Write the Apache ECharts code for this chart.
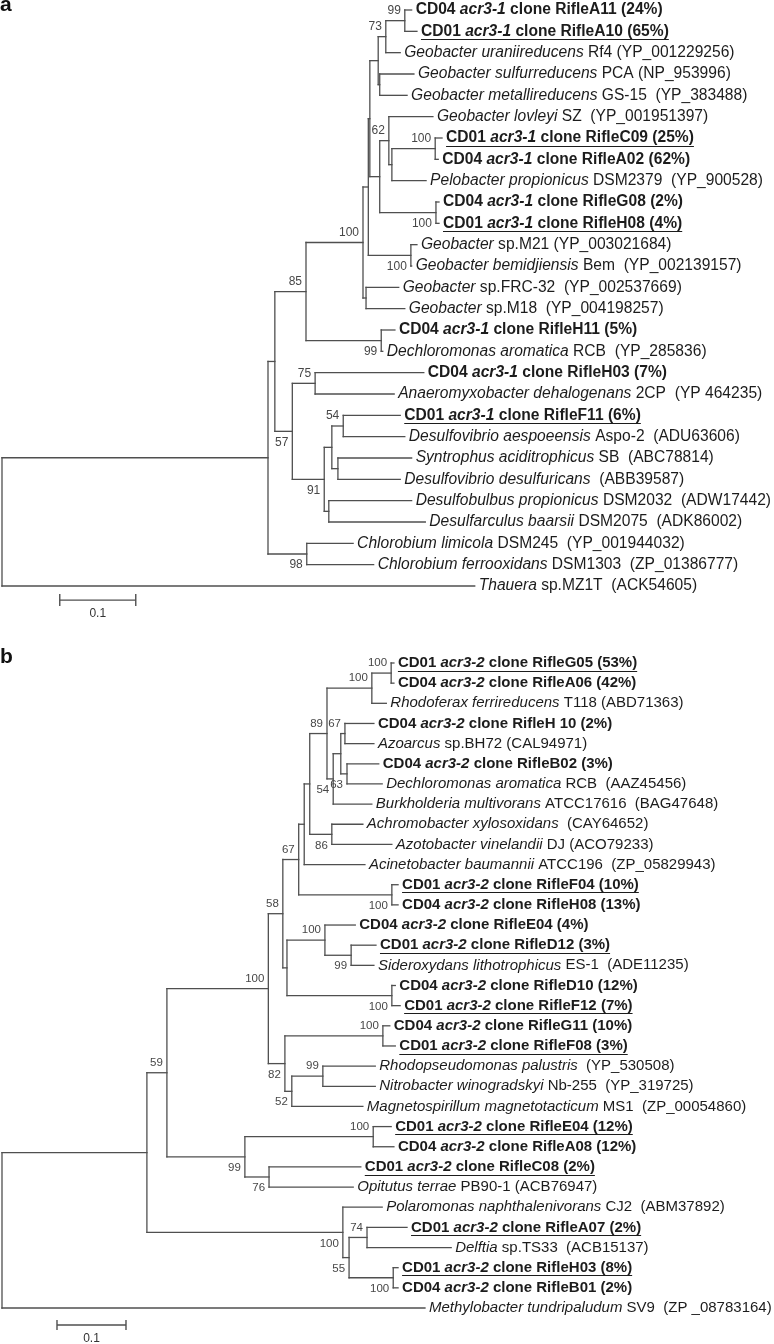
<!DOCTYPE html>
<html>
<head>
<meta charset="utf-8">
<script src="https://cdn.jsdelivr.net/npm/echarts@6/dist/echarts.min.js"></script>
<style>
html, body { margin: 0; padding: 0; background: #fff; }
#chart { width: 774px; height: 1344px; }
</style>
</head>
<body>
<div id="chart"></div>
<script>
// ---- panel a (acr3-1) ----
// leaves top to bottom, *...* marks the italic part
const leafLabelsA = [
  'CD04 *acr3-1* clone RifleA11 (24%)',
  'CD01 *acr3-1* clone RifleA10 (65%)',
  '*Geobacter uraniireducens* Rf4 (YP_001229256)',
  '*Geobacter sulfurreducens* PCA (NP_953996)',
  '*Geobacter metallireducens* GS-15  (YP_383488)',
  '*Geobacter lovleyi* SZ  (YP_001951397)',
  'CD01 *acr3-1* clone RifleC09 (25%)',
  'CD04 *acr3-1* clone RifleA02 (62%)',
  '*Pelobacter propionicus* DSM2379  (YP_900528)',
  'CD04 *acr3-1* clone RifleG08 (2%)',
  'CD01 *acr3-1* clone RifleH08 (4%)',
  '*Geobacter* sp.M21 (YP_003021684)',
  '*Geobacter bemidjiensis* Bem  (YP_002139157)',
  '*Geobacter* sp.FRC-32  (YP_002537669)',
  '*Geobacter* sp.M18  (YP_004198257)',
  'CD04 *acr3-1* clone RifleH11 (5%)',
  '*Dechloromonas aromatica* RCB  (YP_285836)',
  'CD04 *acr3-1* clone RifleH03 (7%)',
  '*Anaeromyxobacter dehalogenans* 2CP  (YP 464235)',
  'CD01 *acr3-1* clone RifleF11 (6%)',
  '*Desulfovibrio aespoeensis* Aspo-2  (ADU63606)',
  '*Syntrophus aciditrophicus* SB  (ABC78814)',
  '*Desulfovibrio desulfuricans*  (ABB39587)',
  '*Desulfobulbus propionicus* DSM2032  (ADW17442)',
  '*Desulfarculus baarsii* DSM2075  (ADK86002)',
  '*Chlorobium limicola* DSM245  (YP_001944032)',
  '*Chlorobium ferrooxidans* DSM1303  (ZP_01386777)',
  '*Thauera* sp.MZ1T  (ACK54605)'
];
// distance from root of each leaf tip
const leafDepthA = [0.539, 0.546, 0.524, 0.542, 0.533, 0.567, 0.579, 0.574, 0.558, 0.575,
  0.575, 0.546, 0.539, 0.522, 0.530, 0.517, 0.501, 0.555, 0.516, 0.524,
  0.530, 0.539, 0.524, 0.539, 0.557, 0.462, 0.489, 0.622];
// internal nodes, children first; numbers are leaves, 'nK' is node K
const nodeKidsA = [
  [0, 1], ['n0', 2], [3, 4], ['n1', 'n2'], [6, 7], ['n4', 8], [5, 'n5'], [9, 10],
  ['n6', 'n7'], ['n3', 'n8'], [11, 12], ['n9', 'n10'], [13, 14], ['n11', 'n12'],
  [15, 16], ['n13', 'n14'], [17, 18], [19, 20], [21, 22], ['n17', 'n18'], [23, 24],
  ['n19', 'n20'], ['n16', 'n21'], ['n15', 'n22'], [25, 26], ['n23', 'n24'], ['n25', 27]
];
const nodeDepthA = [0.530, 0.505, 0.497, 0.495, 0.570, 0.513, 0.509, 0.571, 0.497, 0.484,
  0.538, 0.482, 0.479, 0.475, 0.499, 0.400, 0.412, 0.449, 0.442, 0.434, 0.430, 0.424,
  0.382, 0.359, 0.401, 0.350, 0.000];
const nodeBootA = [99, 73, null, null, 100, null, 62, 100, null, null, 100, null, null, 100,
  99, 85, 75, 54, null, null, null, 91, 57, null, 98, null, null];

// ---- panel b (acr3-2) ----
const leafLabelsB = [
  'CD01 *acr3-2* clone RifleG05 (53%)',
  'CD04 *acr3-2* clone RifleA06 (42%)',
  '*Rhodoferax ferrireducens* T118 (ABD71363)',
  'CD04 *acr3-2* clone RifleH 10 (2%)',
  '*Azoarcus* sp.BH72 (CAL94971)',
  'CD04 *acr3-2* clone RifleB02 (3%)',
  '*Dechloromonas aromatica* RCB  (AAZ45456)',
  '*Burkholderia multivorans* ATCC17616  (BAG47648)',
  '*Achromobacter xylosoxidans*  (CAY64652)',
  '*Azotobacter vinelandii* DJ (ACO79233)',
  '*Acinetobacter baumannii* ATCC196  (ZP_05829943)',
  'CD01 *acr3-2* clone RifleF04 (10%)',
  'CD04 *acr3-2* clone RifleH08 (13%)',
  'CD04 *acr3-2* clone RifleE04 (4%)',
  'CD01 *acr3-2* clone RifleD12 (3%)',
  '*Sideroxydans lithotrophicus* ES-1  (ADE11235)',
  'CD04 *acr3-2* clone RifleD10 (12%)',
  'CD01 *acr3-2* clone RifleF12 (7%)',
  'CD04 *acr3-2* clone RifleG11 (10%)',
  'CD01 *acr3-2* clone RifleF08 (3%)',
  '*Rhodopseudomonas palustris*  (YP_530508)',
  '*Nitrobacter winogradskyi* Nb-255  (YP_319725)',
  '*Magnetospirillum magnetotacticum* MS1  (ZP_00054860)',
  'CD01 *acr3-2* clone RifleE04 (12%)',
  'CD04 *acr3-2* clone RifleA08 (12%)',
  'CD01 *acr3-2* clone RifleC08 (2%)',
  '*Opitutus terrae* PB90-1 (ACB76947)',
  '*Polaromonas naphthalenivorans* CJ2  (ABM37892)',
  'CD01 *acr3-2* clone RifleA07 (2%)',
  '*Delftia* sp.TS33  (ACB15137)',
  'CD01 *acr3-2* clone RifleH03 (8%)',
  'CD04 *acr3-2* clone RifleB01 (2%)',
  '*Methylobacter tundripaludum* SV9  (ZP _08783164)'
];
const leafDepthB = [0.568, 0.568, 0.557, 0.539, 0.539, 0.546, 0.551, 0.536, 0.523, 0.565,
  0.526, 0.574, 0.574, 0.512, 0.542, 0.539, 0.570, 0.577, 0.562, 0.570,
  0.541, 0.541, 0.523, 0.564, 0.568, 0.520, 0.509, 0.551, 0.587, 0.651,
  0.574, 0.574, 0.613];
const nodeKidsB = [
  [0, 1], ['n0', 2], [3, 4], [5, 6], ['n2', 'n3'], ['n4', 7], ['n1', 'n5'], [8, 9],
  ['n6', 'n7'], ['n8', 10], [11, 12], ['n9', 'n10'], [14, 15], [13, 'n12'], [16, 17],
  ['n13', 'n14'], ['n11', 'n15'], [18, 19], [20, 21], ['n18', 22], ['n17', 'n19'],
  ['n16', 'n20'], [23, 24], [25, 26], ['n22', 'n23'], ['n21', 'n24'], [28, 29],
  [30, 31], ['n26', 'n27'], [27, 'n28'], ['n25', 'n29'], ['n30', 32]
];
const nodeDepthB = [0.564, 0.536, 0.497, 0.500, 0.491, 0.480, 0.471, 0.478, 0.446, 0.438,
  0.565, 0.430, 0.506, 0.468, 0.565, 0.413, 0.407, 0.552, 0.465, 0.420, 0.410, 0.386,
  0.538, 0.387, 0.352, 0.239, 0.529, 0.567, 0.503, 0.494, 0.210, 0.000];
const nodeBootB = [100, 100, 67, 63, null, 54, 89, 86, null, null, 100, 67, 99, 100, 100,
  null, 58, 100, 99, 52, 82, 100, 100, 76, 99, 59, 74, 100, 55, 100, null, null];

const scaleBarLen = 0.1;

// style: bootstrap value sits under the branch (1) or over it (0)
const bootBelowA = [0, 0, 0, 0, 0, 0, 0, 1, 0, 0, 1, 0, 0, 0, 1, 0, 0, 0, 0, 0, 0, 1, 1, 0, 1, 0, 0];
const bootBelowB = [0, 0, 0, 1, 0, 1, 0, 1, 0, 0, 1, 0, 1, 0, 1, 0, 0, 0, 0, 1, 1, 0, 0, 1,
  1, 0, 0, 1, 1, 1, 0, 0];

const FAMILY = '"Liberation Sans", Arial, Helvetica, sans-serif';
const LINE = '#4f4f4f';
const TEXT = '#1c1c1c';

const measureCtx = document.createElement('canvas').getContext('2d');
function textWidth(str, style, weight, size) {
  measureCtx.font = style + ' ' + weight + ' ' + size + 'px ' + FAMILY;
  return measureCtx.measureText(str).width;
}

function layoutTree(leafDepth, kids, nodeDepth, boot, below) {
  const pos = {};
  leafDepth.forEach((d, i) => { pos[i] = [d, i]; });
  const segs = [];
  const boots = [];
  kids.forEach((k, j) => {
    const ys = k.map(id => pos[id][1]);
    const lo = Math.min(...ys), hi = Math.max(...ys);
    const x = nodeDepth[j];
    pos['n' + j] = [x, (lo + hi) / 2];
    segs.push([x, lo, x, hi]);
    k.forEach(id => segs.push([x, pos[id][1], pos[id][0], pos[id][1]]));
    if (boot[j] != null) boots.push([x, (lo + hi) / 2, boot[j], below[j]]);
  });
  return { segs, boots };
}

function panelSeries(idx, labels, leafDepth, kids, nodeDepth, boot, below, cfg) {
  const tree = layoutTree(leafDepth, kids, nodeDepth, boot, below);
  const size = cfg.fontSize;
  const base = { fontFamily: FAMILY, fontSize: size, fill: TEXT };
  const rich = {
    r: Object.assign({}, base),
    i: Object.assign({ fontStyle: 'italic' }, base),
    b: Object.assign({ fontWeight: 'bold' }, base),
    bi: Object.assign({ fontWeight: 'bold', fontStyle: 'italic' }, base)
  };
  return [
    {
      type: 'custom', xAxisIndex: idx, yAxisIndex: idx, silent: true,
      data: tree.segs,
      renderItem: (params, api) => {
        const p1 = api.coord([api.value(0), api.value(1)]);
        const p2 = api.coord([api.value(2), api.value(3)]);
        return {
          type: 'line',
          shape: { x1: p1[0], y1: p1[1], x2: p2[0], y2: p2[1] },
          style: { stroke: LINE, lineWidth: 1.3, lineCap: 'square' }
        };
      }
    },
    {
      type: 'custom', xAxisIndex: idx, yAxisIndex: idx, silent: true,
      data: leafDepth.map((d, i) => [d, i, i]),
      renderItem: (params, api) => {
        const i = api.value(2);
        const pt = api.coord([api.value(0), api.value(1)]);
        const label = labels[i];
        const clone = label.indexOf('CD0') === 0;
        let str = '', w = 0;
        label.split('*').forEach((s, k) => {
          if (!s) return;
          const it = k % 2 === 1;
          str += '{' + (clone ? (it ? 'bi' : 'b') : (it ? 'i' : 'r')) + '|' + s + '}';
          w += textWidth(s, it ? 'italic' : 'normal', clone ? 'bold' : 'normal', size);
        });
        const x0 = pt[0] + 4;
        const children = [{
          type: 'text', x: x0, y: pt[1],
          style: { text: str, rich: rich, fontFamily: FAMILY, fontSize: size, fill: TEXT,
            align: 'left', verticalAlign: 'middle' }
        }];
        if (label.indexOf('CD01') === 0) {
          const uy = Math.round(pt[1] + size * 0.35 + 2.4) + 0.5;
          children.push({
            type: 'line',
            shape: { x1: x0, y1: uy, x2: x0 + w, y2: uy },
            style: { stroke: TEXT, lineWidth: 1.2 }
          });
        }
        return { type: 'group', children: children };
      }
    },
    {
      type: 'custom', xAxisIndex: idx, yAxisIndex: idx, silent: true,
      data: tree.boots,
      renderItem: (params, api) => {
        const pt = api.coord([api.value(0), api.value(1)]);
        const dy = api.value(3) ? 11 : -10;
        return {
          type: 'text', x: pt[0] - 4, y: pt[1] + dy,
          style: { text: String(api.value(2)), fontFamily: FAMILY, fontSize: cfg.bootSize,
            fill: '#474747', align: 'right', verticalAlign: 'middle' }
        };
      }
    },
    {
      type: 'custom', xAxisIndex: idx, yAxisIndex: idx, silent: true,
      data: [[scaleBarLen]],
      renderItem: (params, api) => {
        const len = api.value(0);
        const p1 = api.coord([cfg.barStart, cfg.barRow]);
        const p2 = api.coord([cfg.barStart + len, cfg.barRow]);
        const pl = api.coord([cfg.barStart + len / 2, cfg.barLabelRow]);
        const st = { stroke: LINE, lineWidth: 1.4 };
        const t = cfg.tick;
        return {
          type: 'group',
          children: [
            { type: 'line', shape: { x1: p1[0], y1: p1[1], x2: p2[0], y2: p2[1] }, style: st },
            { type: 'line', shape: { x1: p1[0], y1: p1[1] - t, x2: p1[0], y2: p1[1] + t }, style: st },
            { type: 'line', shape: { x1: p2[0], y1: p2[1] - t, x2: p2[0], y2: p2[1] + t }, style: st },
            { type: 'text', x: pl[0], y: pl[1],
              style: { text: String(len), fontFamily: FAMILY, fontSize: 12, fill: '#333',
                align: 'center', verticalAlign: 'middle' } }
          ]
        };
      }
    }
  ];
}

const chart = echarts.init(document.getElementById('chart'));
chart.setOption({
  animation: false,
  backgroundColor: '#fff',
  title: [
    { text: 'a', left: 0, top: -5, padding: 0,
      textStyle: { fontSize: 21, fontWeight: 'bold', color: '#111', fontFamily: FAMILY } },
    { text: 'b', left: 0, top: 647, padding: 0,
      textStyle: { fontSize: 21, fontWeight: 'bold', color: '#111', fontFamily: FAMILY } }
  ],
  grid: [
    { left: 2, top: 10, width: 760, height: 576 },
    { left: 2, top: 663, width: 690, height: 645 }
  ],
  xAxis: [
    { gridIndex: 0, type: 'value', min: 0, max: 1, show: false },
    { gridIndex: 1, type: 'value', min: 0, max: 1, show: false }
  ],
  yAxis: [
    { gridIndex: 0, type: 'value', min: 0, max: leafLabelsA.length - 1, inverse: true, show: false },
    { gridIndex: 1, type: 'value', min: 0, max: leafLabelsB.length - 1, inverse: true, show: false }
  ],
  series: [].concat(
    panelSeries(0, leafLabelsA, leafDepthA, nodeKidsA, nodeDepthA, nodeBootA, bootBelowA,
      { fontSize: 15.6, bootSize: 12, barStart: 0.076, barRow: 27.66, barLabelRow: 28.28, tick: 6 }),
    panelSeries(1, leafLabelsB, leafDepthB, nodeKidsB, nodeDepthB, nodeBootB, bootBelowB,
      { fontSize: 15, bootSize: 11.5, barStart: 0.0797, barRow: 32.84, barLabelRow: 33.5, tick: 5 })
  )
});
</script>
</body>
</html>
